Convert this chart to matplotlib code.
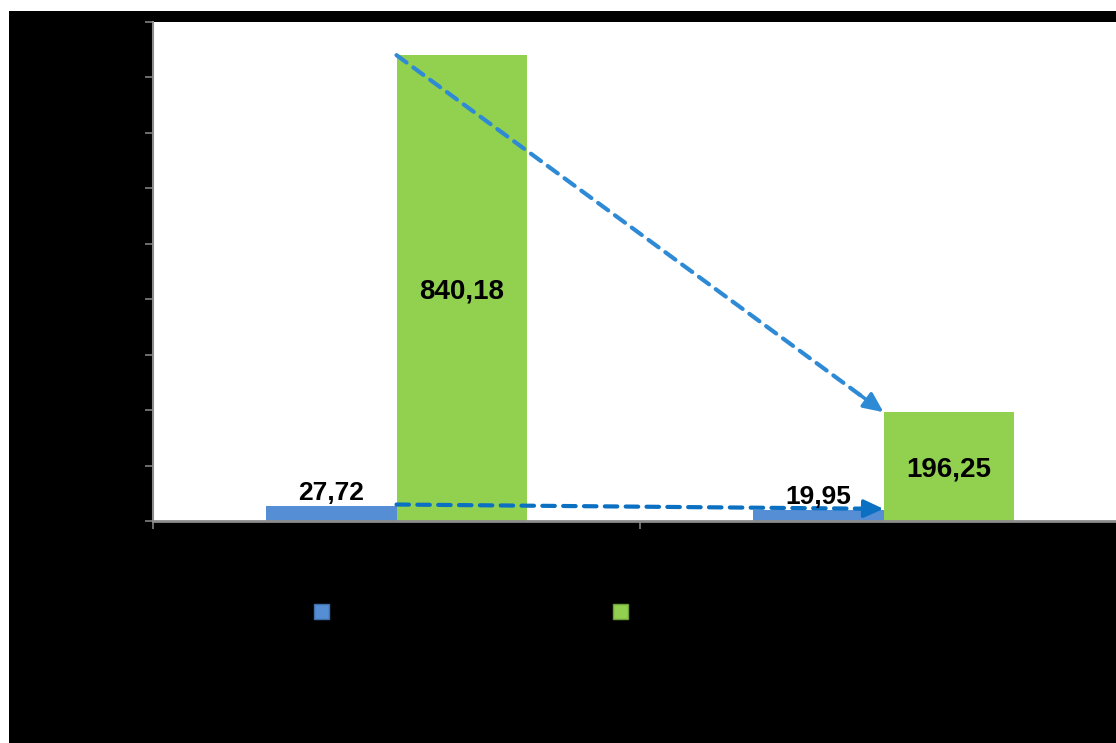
import matplotlib.pyplot as plt
from matplotlib.patches import Rectangle, Patch

# data
categories = ["", ""]
blue_vals = [27.72, 19.95]
green_vals = [840.18, 196.25]
blue_labels = ["27,72", "19,95"]
green_labels = ["840,18", "196,25"]
y_ticks = [0, 100, 200, 300, 400, 500, 600, 700, 800, 900]

blue = "#558ED5"
green = "#92D050"
arrow_top = "#2F8AD6"
arrow_low = "#0B70C2"

fig = plt.figure(figsize=(11.16, 7.43), dpi=100)
fig.patch.set_facecolor("white")
# black panel behind the chart (white strip at top and left)
fig.patches.append(Rectangle((9 / 1116, 0), 1, 1 - 11 / 743, transform=fig.transFigure,
                             facecolor="black", edgecolor="none", zorder=-5))

ax = fig.add_axes([153 / 1116, 1 - 521 / 743, 1 - 153 / 1116, (521 - 22) / 743])
ax.set_zorder(2)
ax.set_facecolor("white")

w = 0.267
x = [0, 1]
ax.bar([i - w / 2 for i in x], blue_vals, width=w, color=blue, zorder=2)
ax.bar([i + w / 2 for i in x], green_vals, width=w, color=green, zorder=2)

ax.set_xlim(-0.5, -0.5 + (1116 - 153) / 487)
ax.set_ylim(0, 900)
ax.set_yticks(y_ticks)
ax.set_xticks([-0.5, 0.5])
ax.tick_params(axis="both", colors="#808080", labelcolor="black", direction="out",
               length=6, width=1.2)

for s in ["top", "right"]:
    ax.spines[s].set_visible(False)
ax.spines["left"].set_color("#8C8C8C")
ax.spines["left"].set_linewidth(1.5)
ax.spines["bottom"].set_color("#8C8C8C")
ax.spines["bottom"].set_linewidth(2)

# value labels
for i in range(2):
    ax.text(x[i] - w / 2, blue_vals[i] + 2, blue_labels[i], ha="center", va="bottom",
            fontsize=19, fontweight="bold",
            family=["Liberation Sans Narrow", "Liberation Sans"], zorder=4)
    ax.text(x[i] + w / 2, green_vals[i] / 2 - 6, green_labels[i], ha="center", va="center",
            fontsize=20, fontweight="bold", family="Liberation Sans", zorder=4)

# dashed trend arrows
def trend(y0, y1, col):
    ax.plot([0, 0.965], [y0, y0 + (y1 - y0) * 0.965], ls=(0, (3, 2)), lw=3,
            color=col, dash_capstyle="round", zorder=3)
    ax.annotate("", xy=(1, y1), xytext=(0.95, y0 + (y1 - y0) * 0.95),
                arrowprops=dict(arrowstyle="-|>,head_length=1.2,head_width=0.55",
                                color=col, lw=2.5, shrinkA=0, shrinkB=0), zorder=3)

trend(green_vals[0], green_vals[1], arrow_top)
trend(blue_vals[0] + 2, blue_vals[1] + 2, arrow_low)

# legend (labels are black on black in the original)
handles = [Patch(facecolor=blue, edgecolor="#3F6FA8"),
           Patch(facecolor=green, edgecolor="#6E9F3A")]
fig.legend(handles, ["", ""], loc="upper left", ncol=2, frameon=False,
           bbox_to_anchor=(314 / 1116, 1 - 603 / 743), borderpad=0, borderaxespad=0,
           fontsize=14, handlelength=0.78, handleheight=0.78, handletextpad=0.2,
           columnspacing=14.4)

fig.savefig("out.png", dpi=100, facecolor=fig.get_facecolor())
